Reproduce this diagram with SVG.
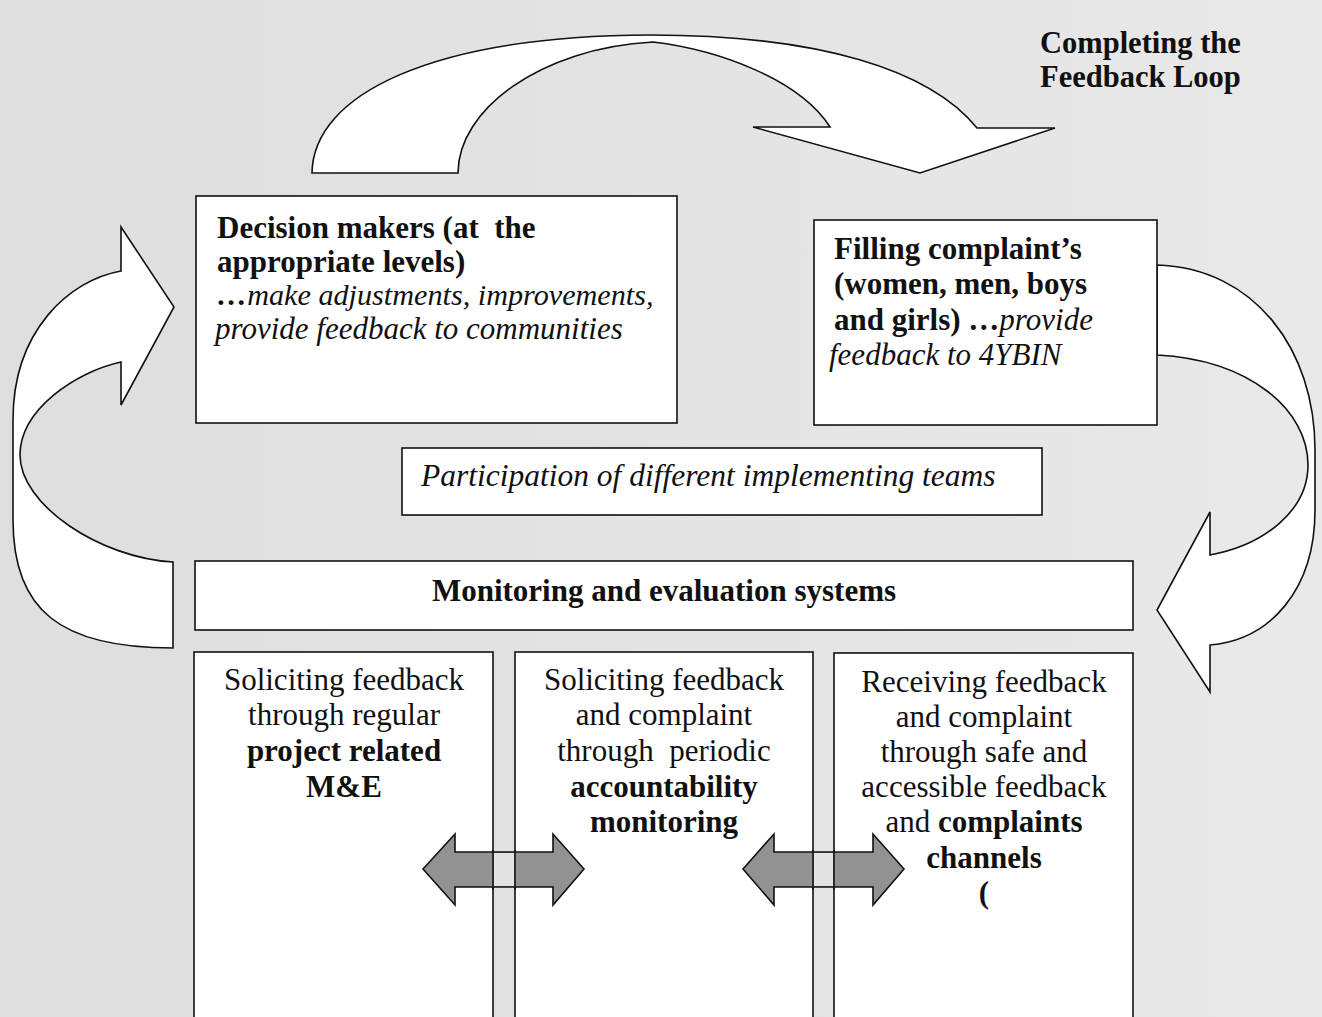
<svg xmlns="http://www.w3.org/2000/svg" width="1322" height="1017" viewBox="0 0 1322 1017">
<defs>
<linearGradient id="bg" x1="0" y1="0" x2="1" y2="0">
<stop offset="0" stop-color="#dedede"/>
<stop offset="1" stop-color="#e9e9e9"/>
</linearGradient>
<style>
.box{fill:#fff;stroke:#111;stroke-width:1.6}
.curve{fill:#fff;stroke:#111;stroke-width:1.6;stroke-linejoin:miter}
.dbl{fill:#929292;stroke:#111;stroke-width:1.6}
.t{font-family:"Liberation Serif","Times New Roman",serif;font-size:31px;fill:#111}
.b{font-weight:bold}
.i{font-style:italic}
.c{text-anchor:middle}
.gap{fill:#e2e2e2}
.edge{stroke:#111;stroke-width:1.6}
</style>
</defs>
<rect x="0" y="0" width="1322" height="1017" fill="url(#bg)"/>

<g id="title">
<text class="t b" x="1040" y="53" style="font-size:30.5px">Completing the</text>
<text class="t b" x="1040" y="87" style="font-size:30.5px">Feedback Loop</text>
</g>

<g id="loop-arrows">
<path id="arrow-top" class="curve" d="M312,173 C313,95 430,36 650,35 C820,35 930,70 977,128 L1055,128 L920,173 L753,127 L830,127 C800,80 720,50 653,42 C540,48 458,110 458,173 Z"/>
<path id="arrow-left" class="curve" d="M173,648 C60,648 13,610 13,520 L13,420 C13,330 70,280 121,271 L121,227 L174,307 L121,405 L121,362 C75,372 20,410 20,455 C20,505 100,558 173,562 Z"/>
<path id="arrow-right" class="curve" d="M1157,265 C1255,268 1315,350 1315,450 L1315,510 C1315,590 1270,640 1210,645 L1210,692 L1157,610 L1210,512 L1210,555 C1265,545 1308,510 1308,465 C1308,410 1250,360 1157,355 Z"/>
</g>

<g id="decision-makers">
<rect class="box" x="196" y="196" width="481" height="227"/>
<text class="t b" x="217" y="238">Decision makers (at&#160; the</text>
<text class="t b" x="217" y="272">appropriate levels)</text>
<text class="t i" x="217" y="305" style="font-size:30.2px"><tspan class="b">…</tspan>make adjustments, improvements,</text>
<text class="t i" x="215" y="339">provide feedback to communities</text>
</g>

<g id="filling-complaints">
<rect class="box" x="814" y="220" width="343" height="205"/>
<text class="t b" x="834" y="259">Filling complaint’s</text>
<text class="t b" x="834" y="294">(women, men, boys</text>
<text class="t b" x="834" y="330">and girls) …<tspan class="i" font-weight="normal">provide</tspan></text>
<text class="t i" x="829" y="365">feedback to 4YBIN</text>
</g>

<g id="participation">
<rect class="box" x="402" y="448" width="640" height="67"/>
<text class="t i" x="421" y="486" style="font-size:31.5px">Participation of different implementing teams</text>
</g>

<g id="monitoring">
<rect class="box" x="195" y="561" width="938" height="69"/>
<text class="t b c" x="664" y="601">Monitoring and evaluation systems</text>
</g>

<g id="project-me">
<rect class="box" x="194" y="652" width="299" height="380"/>
<text class="t c" x="344" y="690">Soliciting feedback</text>
<text class="t c" x="344" y="725">through regular</text>
<text class="t b c" x="344" y="761">project related</text>
<text class="t b c" x="344" y="797">M&amp;E</text>
</g>

<g id="accountability-monitoring">
<rect class="box" x="515" y="652" width="298" height="380"/>
<text class="t c" x="664" y="690">Soliciting feedback</text>
<text class="t c" x="664" y="725">and complaint</text>
<text class="t c" x="664" y="761">through&#160; periodic</text>
<text class="t b c" x="664" y="797">accountability</text>
<text class="t b c" x="664" y="832">monitoring</text>
</g>

<g id="complaints-channels">
<rect class="box" x="834" y="653" width="299" height="380"/>
<text class="t c" x="984" y="692">Receiving feedback</text>
<text class="t c" x="984" y="727">and complaint</text>
<text class="t c" x="984" y="762">through safe and</text>
<text class="t c" x="984" y="797">accessible feedback</text>
<text class="t c" x="984" y="832">and <tspan class="b">complaints</tspan></text>
<text class="t b c" x="984" y="868">channels</text>
<text class="t b c" x="984" y="903">(</text>
</g>

<g id="connectors">
<path class="dbl" d="M423,869 L455,834 L455,852 L553,852 L553,834 L584,869 L553,905 L553,887 L455,887 L455,905 Z"/>
<path class="dbl" d="M743,869 L774,834 L774,852 L873,852 L873,834 L904,869 L873,905 L873,887 L774,887 L774,905 Z"/>
<rect class="gap" x="494" y="853" width="20" height="33"/>
<rect class="gap" x="814" y="853" width="19" height="33"/>
<line class="edge" x1="493" y1="850" x2="493" y2="890"/>
<line class="edge" x1="515" y1="850" x2="515" y2="890"/>
<line class="edge" x1="813" y1="850" x2="813" y2="890"/>
<line class="edge" x1="834" y1="850" x2="834" y2="890"/>
</g>
</svg>
